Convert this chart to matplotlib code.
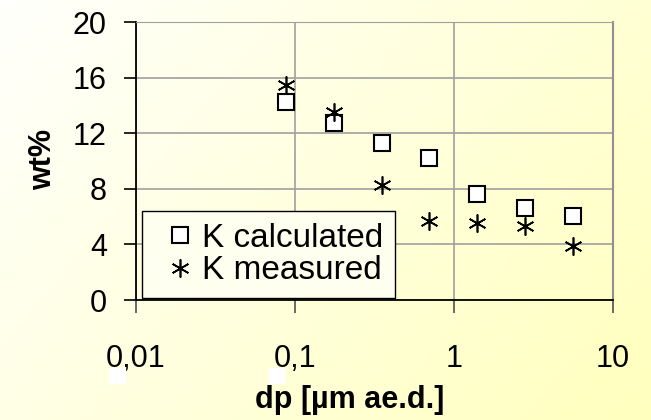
import numpy as np
import matplotlib
matplotlib.use("Agg")
from matplotlib import pyplot as plt
from matplotlib.patches import Rectangle

# particle diameter (impactor stages) and potassium content
dp = [0.088, 0.175, 0.35, 0.7, 1.4, 2.8, 5.6]
k_calculated = [14.25, 12.7, 11.3, 10.25, 7.65, 6.6, 6.05]
k_measured = [15.5, 13.5, 8.25, 5.7, 5.55, 5.35, 3.85]

xticks = [0.01, 0.1, 1, 10]
xticklabels = ['0,01', '0,1', '1', '10']
yticks = [0, 4, 8, 12, 16, 20]

plt.rcParams['font.family'] = ['Liberation Sans', 'DejaVu Sans']

fig = plt.figure(figsize=(6.51, 4.20), dpi=100)

# pale diagonal background, white at top left to yellow at bottom right
bg = fig.add_axes([0, 0, 1, 1], zorder=-10)
gx, gy = np.meshgrid(np.linspace(0, 1, 200), np.linspace(0, 1, 130))
t = 0.65*gx + 0.35*gy
img = np.ones((130, 200, 3))
img[..., 2] = (252 - 62*t)/255.
bg.imshow(img, aspect='auto', extent=(0, 1, 0, 1), origin='upper')
bg.axis('off')

ax = fig.add_axes([136/651, 120/420, 477/651, 278/420])
ax.set_facecolor('none')
ax.set_xscale('log')
ax.set_xlim(0.01, 10)
ax.set_ylim(0, 20)

ax.grid(True, color='#a0a0a0', linewidth=1.2)
ax.set_axisbelow(True)

ax.plot(dp, k_calculated, ls='none', marker='s', markersize=12,
        markerfacecolor='white', markeredgecolor='black', markeredgewidth=1.5,
        label='K calculated', clip_on=False)
ax.plot(dp, k_measured, ls='none', marker=(6, 2, 0), markersize=13,
        color='black', markeredgewidth=1.2, label='K measured', clip_on=False)

ax.xaxis.set_major_locator(matplotlib.ticker.FixedLocator(xticks))
ax.xaxis.set_minor_locator(matplotlib.ticker.NullLocator())
ax.set_xticklabels(xticklabels)
ax.set_yticks(yticks)
ax.tick_params(axis='x', length=9, width=1.2, pad=23, labelsize=22, color='#505050')
ax.tick_params(axis='y', length=9, width=1.2, pad=12, labelsize=22)

for side in ['left', 'bottom']:
    ax.spines[side].set_color('black')
    ax.spines[side].set_linewidth(1.3)
ax.spines['right'].set_color('#909090')
ax.spines['right'].set_linewidth(1.5)
ax.spines['top'].set_color('#a0a0a0')

leg = ax.legend(loc='lower left', bbox_to_anchor=(6/477, 2/278), borderaxespad=0,
                fontsize=24, frameon=True, fancybox=False, facecolor='#fffff0',
                edgecolor='black', framealpha=1, handlelength=1.6,
                handletextpad=-0.15, labelspacing=0.05, borderpad=0.35)
leg.get_frame().set_linewidth(1.0)

fig.text(350/651, 1 - 400/420, 'dp [µm ae.d.]', fontsize=22, fontweight='bold',
         ha='center', va='center')
fig.text(43/651, 1 - 160/420, 'wt%', fontsize=22, fontweight='bold',
         ha='center', va='center', rotation=90)

# two small white blotches under the first tick labels
for x0 in [110, 269]:
    fig.patches.append(Rectangle((x0/651, 1 - 383/420), 15/651, 15/420,
                                 transform=fig.transFigure, color='white', zorder=5))

fig.savefig('out.png', dpi=100)
